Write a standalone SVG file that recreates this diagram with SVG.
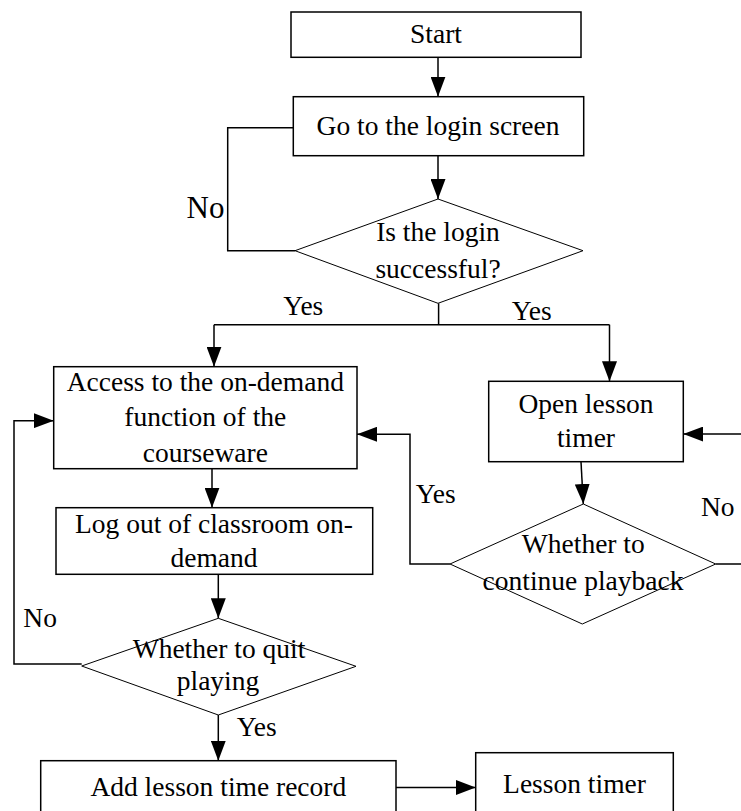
<svg xmlns="http://www.w3.org/2000/svg" width="741" height="811" viewBox="0 0 741 811">
<style>
  .box { fill: #fff; stroke: #000; stroke-width: 1.5; }
  .dia { fill: #fff; stroke: #000; stroke-width: 1; }
  .t { font-family: "Liberation Serif", "Times New Roman", serif; font-size: 27.5px; fill: #000; text-anchor: middle; }
  .lbl { font-family: "Liberation Serif", "Times New Roman", serif; font-size: 27.5px; fill: #000; }
  .c { fill: none; stroke: #000; stroke-width: 1.5; }
</style>
<defs>
  <marker id="arr" markerUnits="userSpaceOnUse" markerWidth="20" markerHeight="15" refX="20" refY="7.5" orient="auto">
    <path d="M0,0 L20,7.5 L0,15 z" fill="#000"/>
  </marker>
</defs>
<rect width="741" height="811" fill="#fff"/>
<g id="connectors">
  <path class="c" d="M438,57 V96.7" marker-end="url(#arr)"/>
  <path class="c" d="M438,155.7 V199" marker-end="url(#arr)"/>
  <path class="c" d="M293.3,127.7 H227.7 V250.7 H295"/>
  <path class="c" d="M438.6,303.3 V324.7"/>
  <path class="c" d="M214,324.7 H609.5"/>
  <path class="c" d="M214,324.7 V366.7" marker-end="url(#arr)"/>
  <path class="c" d="M609.5,324.7 V381.3" marker-end="url(#arr)"/>
  <path class="c" d="M581,461.7 L583.3,504" marker-end="url(#arr)"/>
  <path class="c" d="M450,564 H410 V434.3 H357" marker-end="url(#arr)"/>
  <path class="c" d="M715.7,564 H746 V434 H683.3" marker-end="url(#arr)"/>
  <path class="c" d="M212,468.7 V507.7" marker-end="url(#arr)"/>
  <path class="c" d="M218.3,574.3 V618.3" marker-end="url(#arr)"/>
  <path class="c" d="M81.7,664 H14 V420.7 H53.7" marker-end="url(#arr)"/>
  <path class="c" d="M218.3,715 V760.7" marker-end="url(#arr)"/>
  <path class="c" d="M396,787.5 H475.7" marker-end="url(#arr)"/>
  <text class="lbl" x="186.5" y="218.3" style="font-size:31px">No</text>
  <text class="lbl" x="283.3" y="315">Yes</text>
  <text class="lbl" x="511.7" y="319.5">Yes</text>
  <text class="lbl" x="415.7" y="503.3">Yes</text>
  <text class="lbl" x="701" y="516">No</text>
  <text class="lbl" x="23.3" y="626.7">No</text>
  <text class="lbl" x="236.7" y="735.7">Yes</text>
</g>
<g id="start">
  <rect class="box" x="291" y="12" width="290" height="45.3"/>
  <text class="t" x="436" y="43.3">Start</text>
</g>
<g id="login">
  <rect class="box" x="293.3" y="96.7" width="290.4" height="59"/>
  <text class="t" x="438" y="135">Go to the login screen</text>
</g>
<g id="login-ok">
  <polygon class="dia" points="438,199 583,250.7 438,303.3 295,250.7"/>
  <text class="t" x="438" y="240.7">Is the login</text>
  <text class="t" x="438" y="277.7">successful?</text>
</g>
<g id="access">
  <rect class="box" x="53.7" y="366.7" width="303.3" height="102"/>
  <text class="t" x="205.3" y="390.7">Access to the on-demand</text>
  <text class="t" x="205.3" y="426">function of the</text>
  <text class="t" x="205.3" y="461.7">courseware</text>
</g>
<g id="open-timer">
  <rect class="box" x="488.7" y="381.3" width="194.6" height="80.4"/>
  <text class="t" x="586" y="412.7">Open lesson</text>
  <text class="t" x="586" y="447.3">timer</text>
</g>
<g id="continue">
  <polygon class="dia" points="583.3,504 715.7,564 582.3,624 450,564" style="fill:none"/>
  <text class="t" x="583.3" y="553.3">Whether to</text>
  <text class="t" x="583" y="590">continue playback</text>
</g>
<g id="logout">
  <rect class="box" x="56" y="507.7" width="316.7" height="66.6"/>
  <text class="t" x="214" y="532.7">Log out of classroom on-</text>
  <text class="t" x="214" y="567.3">demand</text>
</g>
<g id="quit">
  <polygon class="dia" points="218.3,618.3 356,666.3 218.3,715 81.7,666" style="fill:none"/>
  <text class="t" x="219" y="658.3">Whether to quit</text>
  <text class="t" x="218" y="690">playing</text>
</g>
<g id="add-record">
  <rect class="box" x="40.7" y="760.7" width="355.3" height="60"/>
  <text class="t" x="218.3" y="796">Add lesson time record</text>
</g>
<g id="lesson-timer">
  <rect class="box" x="475.7" y="752.7" width="197.6" height="68"/>
  <text class="t" x="574.5" y="793.3">Lesson timer</text>
</g>
</svg>
